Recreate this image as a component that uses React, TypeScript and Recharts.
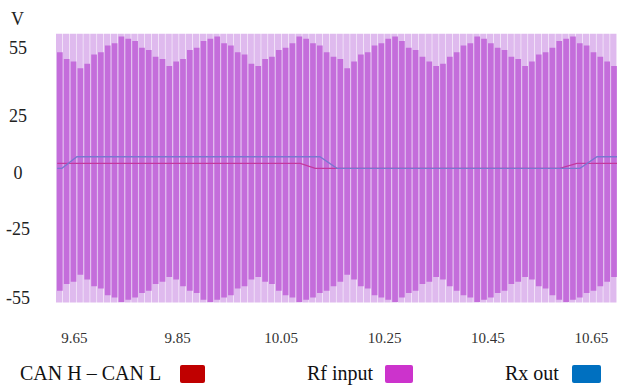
import React from 'react';
import { ComposedChart, Bar, Line, XAxis, YAxis } from 'recharts';

const timeTicks = [9.65, 9.85, 10.05, 10.25, 10.45, 10.65];
const voltTicks = [55, 25, 0, -25, -55];

// Rf input: upper / lower reach of the dense part of each display column
const rfHigh = [
  53, 50, 49, 46, 48, 52, 53, 56, 57, 60,
  59, 58, 55, 54, 51, 50, 47, 49, 50, 54,
  55, 58, 59, 60, 57, 56, 53, 52, 48, 47,
  50, 51, 54, 55, 57, 60, 59, 57, 56, 53,
  51, 50, 46, 49, 52, 53, 56, 57, 59, 60,
  58, 55, 54, 51, 49, 47, 48, 51, 53, 56,
  57, 60, 59, 57, 55, 54, 51, 50, 47, 49,
  52, 53, 55, 58, 59, 60, 57, 56, 53, 51,
  49, 47,
];
const rfLow = [
  -52, -49, -48, -45, -47, -50, -51, -54, -55, -57,
  -56, -55, -53, -52, -49, -48, -46, -47, -50, -52,
  -53, -56, -57, -56, -55, -54, -51, -50, -47, -46,
  -48, -49, -52, -54, -55, -57, -56, -55, -53, -52,
  -50, -48, -45, -47, -50, -51, -54, -55, -56, -57,
  -55, -53, -52, -49, -48, -46, -47, -50, -52, -54,
  -55, -57, -56, -55, -53, -52, -49, -48, -46, -47,
  -50, -51, -54, -56, -57, -56, -55, -53, -52, -50,
  -48, -46,
];
// full peak-to-peak swing of the carrier
const rfEnvelope = [-57.2, 61.2];

const canTime = [9.617, 10.087, 10.116, 10.589, 10.622, 10.7];
const canVolts = [4.1, 4.1, 1.9, 1.9, 4.1, 4.1];

const rxTime = [9.617, 9.626, 9.655, 10.125, 10.158, 10.628, 10.661, 10.7];
const rxVolts = [1.9, 1.9, 7.0, 7.0, 1.9, 1.9, 7.0, 7.0];

const legendNames = ['CAN H – CAN L', 'Rf input', 'Rx out'];
const legendColors = ['#c00000', '#cc33cc', '#0070c0'];

const rfRows = rfHigh.map((hi, i) => ({ col: i, inner: [rfLow[i], hi], outer: rfEnvelope }));
const canRows = canTime.map((t, i) => ({ t, v: canVolts[i] }));
const rxRows = rxTime.map((t, i) => ({ t, v: rxVolts[i] }));

const serif = 'Liberation Serif, DejaVu Serif, serif';

// legend layout (text left, swatch left)
const legendLayout = [
  { text: 20, box: 180, w: 25 },
  { text: 307, box: 385, w: 28 },
  { text: 505, box: 572, w: 29 },
];

const YTick = ({ x, y, payload }: any) => (
  <text x={x - 38} y={y} dy={6} textAnchor="middle" fontSize={18} fontFamily={serif} fill="#222">
    {payload.value}
  </text>
);

const XTick = ({ x, y, payload }: any) => (
  <text x={x} y={y} dy={-20} textAnchor="middle" fontSize={15} fontFamily={serif} fill="#333">
    {payload.value}
  </text>
);

export default function App() {
  return (
    <div style={{ position: 'absolute', left: 0, top: 0, width: 619, height: 385, background: '#fff' }}>
      <div style={{ position: 'absolute', left: 11, top: 10, fontSize: 18, lineHeight: '18px', fontFamily: serif, color: '#222' }}>
        V
      </div>
      <ComposedChart
        width={619}
        height={385}
        data={rfRows}
        margin={{ top: 33, right: 2, bottom: 52, left: 0 }}
      >
        <XAxis
          xAxisId="time"
          dataKey="t"
          type="number"
          domain={[9.6146, 10.6997]}
          ticks={timeTicks}
          allowDataOverflow
          axisLine={false}
          tickLine={false}
          tickSize={0}
          tickMargin={0}
          height={30}
          tick={<XTick />}
          interval={0}
        />
        <XAxis xAxisId="outer" dataKey="col" type="category" hide />
        <XAxis xAxisId="cols" dataKey="col" type="category" hide />
        <YAxis
          type="number"
          domain={[-57.4, 61.5]}
          ticks={voltTicks}
          allowDataOverflow
          axisLine={false}
          tickLine={false}
          tickSize={0}
          tickMargin={0}
          width={56}
          tick={<YTick />}
          interval={0}
        />
        <Bar xAxisId="outer" dataKey="outer" fill="#dfbaee" barSize={6.3} isAnimationActive={false} />
        <Bar xAxisId="cols" dataKey="inner" fill="#c46ddb" barSize={5.7} isAnimationActive={false} />
        <Line
          xAxisId="time"
          data={canRows}
          dataKey="v"
          type="linear"
          stroke="#c4389e"
          strokeWidth={1.3}
          dot={false}
          isAnimationActive={false}
        />
        <Line
          xAxisId="time"
          data={rxRows}
          dataKey="v"
          type="linear"
          stroke="#7a76d0"
          strokeWidth={1.3}
          dot={false}
          isAnimationActive={false}
        />
      </ComposedChart>
      {legendNames.map((name, i) => (
        <React.Fragment key={name}>
          <div
            style={{
              position: 'absolute',
              left: legendLayout[i].text,
              top: 363,
              fontSize: 20,
              lineHeight: '20px',
              fontFamily: serif,
              color: '#111',
              whiteSpace: 'nowrap',
            }}
          >
            {name}
          </div>
          <div
            style={{
              position: 'absolute',
              left: legendLayout[i].box,
              top: 365,
              width: legendLayout[i].w,
              height: 18,
              borderRadius: 2,
              background: legendColors[i],
            }}
          />
        </React.Fragment>
      ))}
    </div>
  );
}
